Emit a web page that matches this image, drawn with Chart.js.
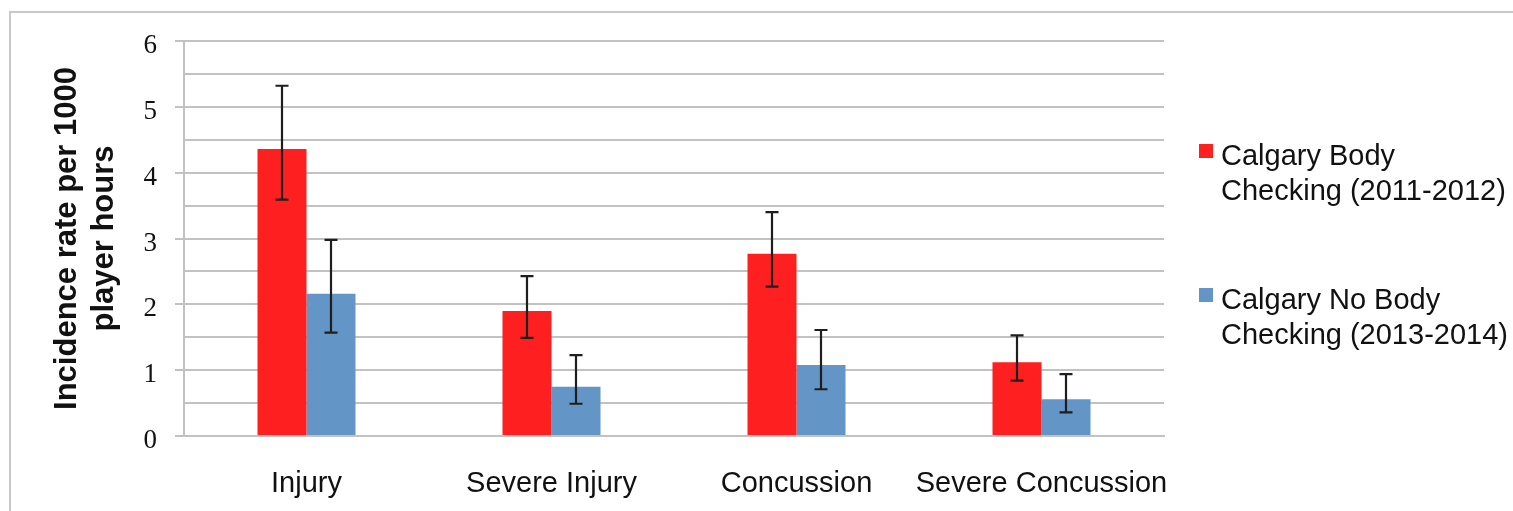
<!DOCTYPE html>
<html>
<head>
<meta charset="utf-8">
<script src="https://cdn.jsdelivr.net/npm/chart.js@4.4.1/dist/chart.umd.min.js"></script>
<style>
  html, body { margin: 0; padding: 0; background: #fff; }
  #wrap { width: 1513px; height: 511px; position: relative; }
</style>
</head>
<body>
<div id="wrap"><canvas id="c" width="1513" height="511"></canvas></div>
<script>
const categories = ['Injury', 'Severe Injury', 'Concussion', 'Severe Concussion'];
const seriesNames = [['Calgary Body', 'Checking (2011-2012)'], ['Calgary No Body', 'Checking (2013-2014)']];
const bodyChecking = [4.36, 1.90, 2.77, 1.12];
const bodyCheckingLow = [3.59, 1.49, 2.27, 0.84];
const bodyCheckingHigh = [5.32, 2.43, 3.40, 1.53];
const noBodyChecking = [2.16, 0.75, 1.08, 0.56];
const noBodyCheckingLow = [1.57, 0.49, 0.71, 0.36];
const noBodyCheckingHigh = [2.98, 1.23, 1.61, 0.94];
const yTitle = ['Incidence rate per 1000', 'player hours'];

const RED = '#fe2020';
const BLUE = '#6396c6';
const GRID = '#c2c2c2';

const errorBars = {
  id: 'errorBars',
  afterDatasetsDraw(chart) {
    const ctx = chart.ctx;
    const ys = chart.scales.y;
    ctx.save();
    ctx.strokeStyle = '#1e1e1e';
    ctx.lineWidth = 2.2;
    chart.data.datasets.forEach((ds, di) => {
      const meta = chart.getDatasetMeta(di);
      meta.data.forEach((bar, i) => {
        const x = bar.x;
        const yh = ys.getPixelForValue(ds.errHigh[i]);
        const yl = ys.getPixelForValue(ds.errLow[i]);
        ctx.beginPath();
        ctx.moveTo(x, yh); ctx.lineTo(x, yl);
        ctx.moveTo(x - 6.5, yh); ctx.lineTo(x + 6.5, yh);
        ctx.moveTo(x - 6.5, yl); ctx.lineTo(x + 6.5, yl);
        ctx.stroke();
      });
    });
    ctx.restore();
  }
};

const frameAndLegend = {
  id: 'frameAndLegend',
  beforeDraw(chart) {
    const ctx = chart.ctx;
    ctx.save();
    ctx.strokeStyle = '#c8c8c8';
    ctx.lineWidth = 2;
    ctx.beginPath();
    ctx.moveTo(10, 513); ctx.lineTo(10, 12); ctx.lineTo(1513, 12);
    ctx.stroke();
    ctx.restore();
  },
  afterDraw(chart) {
    const ctx = chart.ctx;
    const a = chart.chartArea;
    ctx.save();
    ctx.font = '29px "Liberation Sans", Arial, sans-serif';
    ctx.textBaseline = 'alphabetic';
    const sx = a.right + 35;
    const tx = a.right + 57;
    const tops = [a.top + 103, a.top + 247];
    chart.data.datasets.forEach((ds, di) => {
      const t = tops[di];
      ctx.fillStyle = ds.backgroundColor;
      ctx.fillRect(sx, t, 14, 14);
      ctx.fillStyle = '#111';
      ds.legendLines.forEach((line, li) => {
        ctx.fillText(line, tx, t + 21 + li * 35);
      });
    });
    ctx.restore();
  }
};

new Chart(document.getElementById('c'), {
  type: 'bar',
  data: {
    labels: categories,
    datasets: [
      { label: seriesNames[0].join(' '), legendLines: seriesNames[0], data: bodyChecking,
        errLow: bodyCheckingLow, errHigh: bodyCheckingHigh, backgroundColor: RED,
        categoryPercentage: 0.4, barPercentage: 1.0 },
      { label: seriesNames[1].join(' '), legendLines: seriesNames[1], data: noBodyChecking,
        errLow: noBodyCheckingLow, errHigh: noBodyCheckingHigh, backgroundColor: BLUE,
        categoryPercentage: 0.4, barPercentage: 1.0 }
    ]
  },
  options: {
    responsive: false,
    animation: false,
    devicePixelRatio: 1,
    layout: { padding: { left: 0, top: 41, right: 349, bottom: 0 } },
    plugins: { legend: { display: false }, tooltip: { enabled: false } },
    scales: {
      x: {
        grid: { display: false, drawTicks: false, tickLength: 0 },
        border: { display: true, color: GRID, width: 2 },
        ticks: { color: '#111', padding: 31, font: { family: '"Liberation Sans", Arial, sans-serif', size: 29 }, maxRotation: 0, autoSkip: false },
        afterFit(scale) { scale.height = 75; }
      },
      y: {
        min: 0, max: 6,
        grid: {
          color: GRID, lineWidth: 2, drawTicks: true, tickLength: 9,
          tickColor: (c) => (c.tick && Number.isInteger(c.tick.value)) ? GRID : 'rgba(0,0,0,0)'
        },
        border: { display: true, color: GRID, width: 2 },
        ticks: {
          stepSize: 0.5, autoSkip: false, padding: 18, labelOffset: 5,
          color: '#111',
          font: { family: '"Liberation Serif", "Times New Roman", serif', size: 27 },
          callback: (v) => Number.isInteger(v) ? String(v) : ''
        },
        title: {
          display: true, text: yTitle, color: '#111',
          font: { family: '"Liberation Sans", Arial, sans-serif', size: 31, weight: 'bold', lineHeight: 1.2 },
          padding: { top: 49, bottom: 0 }
        },
        afterFit(scale) { scale.width = 184; }
      }
    }
  },
  plugins: [errorBars, frameAndLegend]
});
</script>
</body>
</html>
